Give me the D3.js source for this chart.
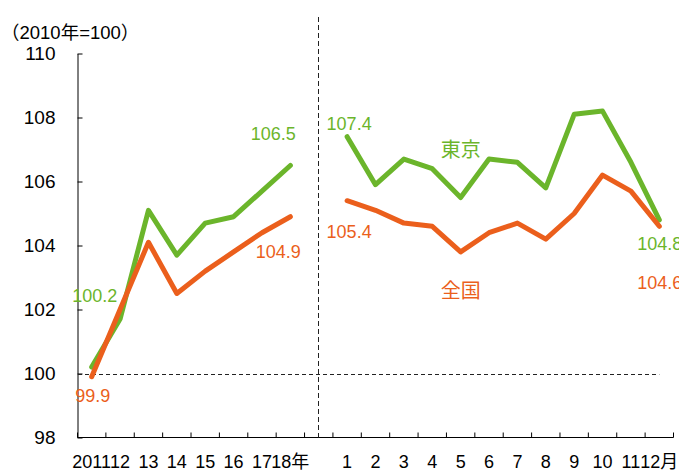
<!DOCTYPE html>
<html>
<head>
<meta charset="utf-8">
<script src="https://cdn.jsdelivr.net/npm/d3@7"></script>
<style>
  body { margin: 0; background: #fff; }
  svg { display: block; font-family: "Liberation Sans", "Noto Sans CJK JP", sans-serif; }
</style>
</head>
<body>
<script>
// 年次と月次のカテゴリ
const years = ["2011", "12", "13", "14", "15", "16", "17", "18年"];
const months = ["1", "2", "3", "4", "5", "6", "7", "8", "9", "10", "11", "12月"];

// 東京（緑）と全国（オレンジ）
const tokyoYear = [100.2, 101.7, 105.1, 103.7, 104.7, 104.9, 105.7, 106.5];
const zenkokuYear = [99.9, 102.0, 104.1, 102.5, 103.2, 103.8, 104.4, 104.9];
const tokyoMonth = [107.4, 105.9, 106.7, 106.4, 105.5, 106.7, 106.6, 105.8, 108.1, 108.2, 106.6, 104.8];
const zenkokuMonth = [105.4, 105.1, 104.7, 104.6, 103.8, 104.4, 104.7, 104.2, 105.0, 106.2, 105.7, 104.6];

const yTicks = [98, 100, 102, 104, 106, 108, 110];

const width = 679, height = 473;
const green = "#6bb52b", orange = "#eb5f1c";

const svg = d3.select("body").append("svg")
    .attr("width", width)
    .attr("height", height);

const x = d3.scaleBand()
    .domain([...years, "", ...months])
    .range([77.5, 673.5])
    .padding(0);
const cx = k => x(k) + x.bandwidth() / 2;

const y = d3.scaleLinear()
    .domain([98, 110])
    .range([437.5, 53.5]);

// 単位
svg.append("text")
    .attr("x", 1)
    .attr("y", 39)
    .attr("font-size", 18.5)
    .text("（2010年=100）");

// y軸
const yAxis = svg.append("g")
    .attr("transform", "translate(77.5,0)")
    .call(d3.axisLeft(y).tickValues(yTicks).tickSizeInner(-5).tickSizeOuter(0).tickPadding(22));
yAxis.select(".domain").attr("stroke", "#000");
yAxis.selectAll(".tick line").attr("stroke", "#000");
yAxis.selectAll(".tick text")
    .attr("font-size", 19)
    .attr("font-family", "Liberation Sans, sans-serif")
    .attr("fill", "#000");

// x軸
const xg = svg.append("g");
xg.append("line")
    .attr("x1", x.range()[0]).attr("x2", x.range()[1])
    .attr("y1", y(98)).attr("y2", y(98))
    .attr("stroke", "#000");
xg.selectAll("line.tk")
    .data(d3.range(x.domain().length + 1))
    .join("line")
    .attr("class", "tk")
    .attr("x1", i => x.range()[0] + i * x.step())
    .attr("x2", i => x.range()[0] + i * x.step())
    .attr("y1", y(98)).attr("y2", y(98) - 5)
    .attr("stroke", "#000");
xg.selectAll("text")
    .data(x.domain().filter(d => d !== ""))
    .join("text")
    .attr("x", d => cx(d))
    .attr("y", 468)
    .attr("text-anchor", "middle")
    .attr("font-size", 18)
    .text(d => d);

// 基準線と区切り線
svg.append("line")
    .attr("x1", 78).attr("x2", cx("12月"))
    .attr("y1", Math.round(y(100)) + 0.5).attr("y2", Math.round(y(100)) + 0.5)
    .attr("stroke", "#222")
    .attr("stroke-dasharray", "4,3");
svg.append("line")
    .attr("x1", Math.round(cx("")) - 0.5).attr("x2", Math.round(cx("")) - 0.5)
    .attr("y1", 17).attr("y2", y(98))
    .attr("stroke", "#222")
    .attr("stroke-dasharray", "5,3");

const line = d3.line().x(d => cx(d[0])).y(d => y(d[1]));

const series = [
  [years, tokyoYear, green],
  [months, tokyoMonth, green],
  [years, zenkokuYear, orange],
  [months, zenkokuMonth, orange]
];
svg.append("g")
    .attr("fill", "none")
    .attr("stroke-width", 5)
    .attr("stroke-linejoin", "round")
    .attr("stroke-linecap", "round")
  .selectAll("path")
  .data(series)
  .join("path")
    .attr("stroke", d => d[2])
    .attr("d", d => line(d[0].map((k, i) => [k, d[1][i]])));

// ラベル
const lab = (k, v, dx, dy, color, anchor, txt, size) =>
  svg.append("text")
    .attr("x", cx(k) + dx)
    .attr("y", y(v) + dy)
    .attr("dy", "0.36em")
    .attr("text-anchor", anchor)
    .attr("font-size", size ?? 18)
    .attr("fill", color)
    .text(txt ?? v.toFixed(1));

lab(years[0], tokyoYear[0], 3, -72, green, "middle");
lab(years[0], zenkokuYear[0], 1, 19, orange, "middle");
lab(years[7], tokyoYear[7], -17, -32, green, "middle");
lab(years[7], zenkokuYear[7], -12, 35, orange, "middle");
lab(months[0], tokyoMonth[0], 2, -13, green, "middle");
lab(months[0], zenkokuMonth[0], 2, 31, orange, "middle");
lab(months[11], tokyoMonth[11], -22, 24, green, "start");
lab(months[11], zenkokuMonth[11], -22, 56, orange, "start");
lab("5", 107.0, 0, 0, green, "middle", "東京", 20);
lab("5", 102.6, 0, 0, orange, "middle", "全国", 20);
</script>
</body>
</html>
